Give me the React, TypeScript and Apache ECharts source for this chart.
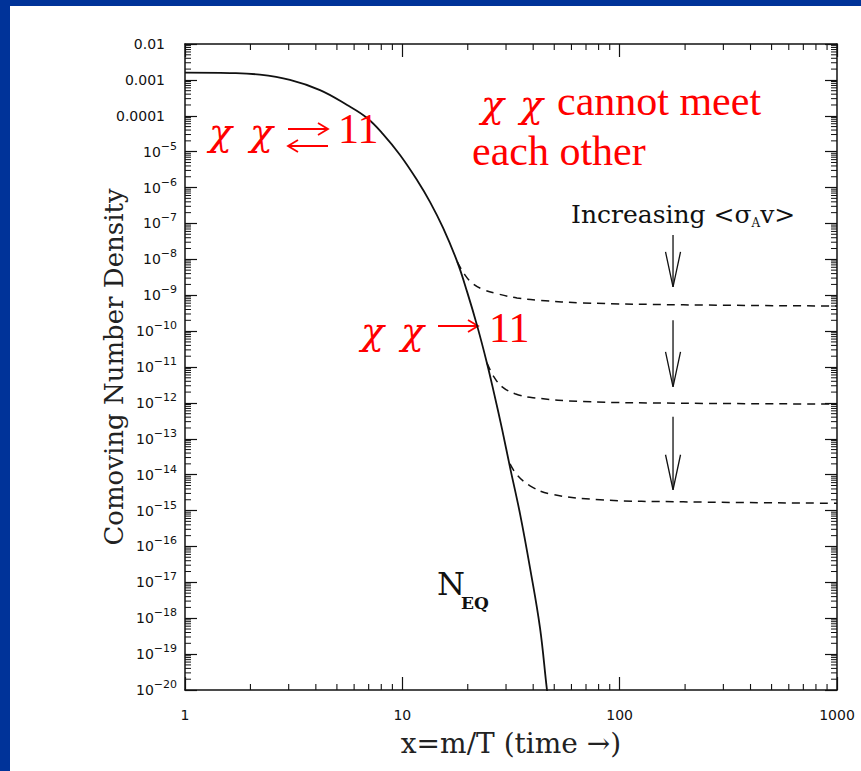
import React, { useEffect, useRef } from 'react';
import * as echarts from 'echarts';

// Equilibrium comoving density N_EQ (solid curve)
const eqX = [1, 1.61, 2.21, 3.04, 4.18, 5.57, 6.88, 8.15, 9.76, 11.7, 13.4, 15.4, 17.9, 19.9, 22.1, 24.5, 26.4, 28.8, 31.3, 34.8, 38.7, 43.0, 46.3, 48.0];
const eqY = [1.6e-3, 1.55e-3, 1.4e-3, 1.0e-3, 5.2e-4, 2.0e-4, 8.7e-5, 3.1e-5, 8.1e-6, 1.6e-6, 4.0e-7, 7.5e-8, 8.5e-9, 1.2e-9, 1.4e-10, 1.3e-11, 1.9e-12, 1.8e-13, 1.6e-14, 8.1e-16, 2.5e-17, 5.4e-19, 1.0e-20, 2e-21];

// Frozen-out relic abundances for three annihilation cross sections (dashed)
const relicHighX = [17.9, 19.4, 21.1, 23.5, 27.3, 33.7, 43.0, 67.9, 196, 1000];
const relicHighY = [8.5e-9, 3.7e-9, 2.1e-9, 1.45e-9, 1.1e-9, 8.4e-10, 7.2e-10, 6.1e-10, 5.4e-10, 5.0e-10];
const relicMidX = [24.5, 26.4, 28.8, 33.0, 39.9, 67.9, 196, 1000];
const relicMidY = [1.3e-11, 5.3e-12, 2.8e-12, 1.8e-12, 1.4e-12, 1.09e-12, 9.8e-13, 9.3e-13];
const relicLowX = [31.3, 33.7, 38.7, 47.9, 81.3, 196, 1000];
const relicLowY = [2.0e-14, 9.9e-15, 4.9e-15, 2.9e-15, 2.0e-15, 1.75e-15, 1.6e-15];

// "Increasing <σv>" arrows
const arrowX = [176, 176, 176];
const arrowFrom = [4.8e-8, 2.0e-10, 4.1e-13];
const arrowTo = [1.7e-9, 2.8e-12, 3.8e-15];

// Axis ranges (decades) and tick labels
const X_MIN = 0;
const X_MAX = 3;
const Y_MIN = -20;
const Y_MAX = -2;
const xTickLabels = ['1', '10', '100', '1000'];
const yDecimalLabels: Record<string, string> = { '-2': '0.01', '-3': '0.001', '-4': '0.0001' };
const minorMultipliers = [2, 3, 4, 5, 6, 7, 8, 9];

const lg = (v: number) => Math.log10(v);
const pairs = (xs: number[], ys: number[]) => xs.map((x, i) => [lg(x), lg(ys[i])]);

const INK = '#111';
const RED = '#ff0000';

// red horizontal arrow drawn with strokes: x0..x1 at height y, head at the `head` end
function hArrow(x0: number, x1: number, y: number, head: 'left' | 'right') {
  const hx = head === 'right' ? x1 : x0;
  const dir = head === 'right' ? -1 : 1;
  const st = { stroke: RED, lineWidth: 1.8, fill: 'none' };
  return {
    type: 'group',
    z: 10,
    silent: true,
    children: [
      { type: 'line', shape: { x1: x0, y1: y, x2: x1, y2: y }, style: st },
      {
        type: 'polyline',
        shape: { points: [[hx + dir * 10, y - 6], [hx, y], [hx + dir * 10, y + 6]] },
        style: st,
      },
    ],
  };
}

function buildOption() {
  const xMinor: number[][] = [];
  for (let d = X_MIN; d < X_MAX; d++) {
    minorMultipliers.forEach((m) => xMinor.push([d + lg(m), Y_MIN]));
  }
  const yMinor: number[][] = [];
  for (let d = Y_MIN; d < Y_MAX; d++) {
    minorMultipliers.forEach((m) => yMinor.push([X_MIN, d + lg(m)]));
  }

  const axisLine = { show: true, onZero: false, lineStyle: { color: INK, width: 1.5 } };
  const tickStyle = { color: INK, width: 1.2 };
  const serif = 'DejaVu Serif';

  const curve = (name: string, data: number[][], dashed: boolean) => ({
    name,
    type: 'line',
    data,
    xAxisIndex: 0,
    yAxisIndex: 0,
    showSymbol: false,
    smooth: 0.4,
    clip: true,
    lineStyle: { color: INK, width: dashed ? 1.5 : 1.8, type: dashed ? [8, 6] : 'solid' },
    z: 3,
  });

  const text = (x: number, y: number, t: string, style: any, z = 10) => ({
    type: 'text',
    x,
    y,
    z,
    silent: true,
    style: { text: t, align: 'left', verticalAlign: 'middle', ...style },
  });
  const chi = { fill: RED, fontFamily: 'DejaVu Serif', fontStyle: 'italic', fontSize: 38 };
  const redSerif = { fill: RED, fontFamily: 'Liberation Serif', fontSize: 42 };

  return {
    animation: false,
    backgroundColor: '#003399',
    grid: { left: 185, right: 24, top: 44, bottom: 81, show: false },
    xAxis: [
      {
        type: 'value',
        min: X_MIN,
        max: X_MAX,
        interval: 1,
        position: 'bottom',
        axisLine,
        axisTick: { show: true, inside: true, length: 13, lineStyle: tickStyle },
        splitLine: { show: false },
        axisLabel: {
          margin: 18,
          color: '#111',
          fontFamily: 'DejaVu Sans',
          fontSize: 14,
          formatter: (v: number) => xTickLabels[Math.round(v)],
        },
        name: 'x=m/T (time →)',
        nameLocation: 'middle',
        nameGap: 39,
        nameMoveOverlap: false,
        nameTextStyle: { fontFamily: serif, fontSize: 28, color: '#222' },
      },
      {
        type: 'value',
        min: X_MIN,
        max: X_MAX,
        interval: 1,
        position: 'top',
        axisLine,
        axisTick: { show: true, inside: true, length: 13, lineStyle: tickStyle },
        splitLine: { show: false },
        axisLabel: { show: false },
      },
    ],
    yAxis: [
      {
        type: 'value',
        min: Y_MIN,
        max: Y_MAX,
        interval: 1,
        position: 'left',
        axisLine,
        axisTick: { show: true, inside: true, length: 12, lineStyle: tickStyle },
        splitLine: { show: false },
        axisLabel: {
          margin: 8,
          color: '#111',
          fontFamily: 'DejaVu Sans',
          fontSize: 14,
          lineHeight: 22,
          formatter: (v: number) => {
            const k = String(Math.round(v));
            if (yDecimalLabels[k]) return '{d|' + yDecimalLabels[k] + '}';
            return '10{s|−' + -Math.round(v) + '}';
          },
          rich: {
            d: { fontFamily: 'DejaVu Sans', fontSize: 14, color: '#111', padding: [0, 12, 0, 0] },
            s: { fontFamily: 'DejaVu Sans', fontSize: 11, lineHeight: 11, color: '#111', verticalAlign: 'top' },
          },
        },
        name: 'Comoving Number Density',
        nameLocation: 'middle',
        nameGap: 58,
        nameMoveOverlap: false,
        nameTextStyle: { fontFamily: serif, fontSize: 26, color: '#222' },
      },
      {
        type: 'value',
        min: Y_MIN,
        max: Y_MAX,
        interval: 1,
        position: 'right',
        axisLine,
        axisTick: { show: true, inside: true, length: 12, lineStyle: tickStyle },
        splitLine: { show: false },
        axisLabel: { show: false },
      },
    ],
    series: [
      curve('N_EQ', pairs(eqX, eqY), false),
      curve('relic high', pairs(relicHighX, relicHighY), true),
      curve('relic mid', pairs(relicMidX, relicMidY), true),
      curve('relic low', pairs(relicLowX, relicLowY), true),
      {
        type: 'custom',
        name: 'x minor ticks',
        xAxisIndex: 0,
        yAxisIndex: 0,
        clip: false,
        silent: true,
        data: xMinor,
        renderItem: (_p: any, api: any) => {
          const v = api.value(0);
          const b = api.coord([v, Y_MIN]);
          const t = api.coord([v, Y_MAX]);
          return {
            type: 'group',
            children: [
              { type: 'line', shape: { x1: b[0], y1: b[1], x2: b[0], y2: b[1] - 6 }, style: { stroke: INK, lineWidth: 1.1 } },
              { type: 'line', shape: { x1: t[0], y1: t[1], x2: t[0], y2: t[1] + 6 }, style: { stroke: INK, lineWidth: 1.1 } },
            ],
          };
        },
      },
      {
        type: 'custom',
        name: 'y minor ticks',
        xAxisIndex: 0,
        yAxisIndex: 0,
        clip: false,
        silent: true,
        data: yMinor,
        renderItem: (_p: any, api: any) => {
          const v = api.value(1);
          const l = api.coord([X_MIN, v]);
          const r = api.coord([X_MAX, v]);
          return {
            type: 'group',
            children: [
              { type: 'line', shape: { x1: l[0], y1: l[1], x2: l[0] + 6, y2: l[1] }, style: { stroke: INK, lineWidth: 1 } },
              { type: 'line', shape: { x1: r[0], y1: r[1], x2: r[0] - 6, y2: r[1] }, style: { stroke: INK, lineWidth: 1 } },
            ],
          };
        },
      },
      {
        type: 'custom',
        name: 'increasing cross section',
        xAxisIndex: 0,
        yAxisIndex: 0,
        silent: true,
        encode: { x: 0, y: [1, 2] },
        data: arrowX.map((x, i) => [lg(x), lg(arrowFrom[i]), lg(arrowTo[i])]),
        renderItem: (_p: any, api: any) => {
          const p0 = api.coord([api.value(0), api.value(1)]);
          const p1 = api.coord([api.value(0), api.value(2)]);
          const st = { stroke: INK, lineWidth: 1.3, fill: 'none' };
          return {
            type: 'group',
            children: [
              { type: 'line', shape: { x1: p0[0], y1: p0[1], x2: p1[0], y2: p1[1] }, style: st },
              {
                type: 'polyline',
                shape: { points: [[p1[0] - 7.5, p1[1] - 35], [p1[0], p1[1]], [p1[0] + 7.5, p1[1] - 35]] },
                style: st,
              },
            ],
          };
        },
      },
    ],
    graphic: [
      { type: 'rect', z: -10, silent: true, shape: { x: 10, y: 6, width: 851, height: 765 }, style: { fill: '#ffffff' } },
      // chemical equilibrium
      text(209, 132, 'χ', chi),
      text(250, 132, 'χ', chi),
      hArrow(288, 328, 129, 'right'),
      hArrow(288, 328, 146, 'left'),
      text(338, 129, '11', redSerif),
      // no more annihilation
      text(481, 104, 'χ', chi),
      text(520, 104, 'χ', chi),
      text(557, 101, 'cannot meet', redSerif),
      text(472, 151, 'each other', redSerif),
      // freeze-out
      text(361, 331, 'χ', chi),
      text(401, 331, 'χ', chi),
      hArrow(438, 478, 326, 'right'),
      text(489, 328, '11', redSerif),
      // curve labels
      text(437, 584, 'N', { fill: '#111', fontFamily: serif, fontSize: 32 }),
      text(461, 603, 'EQ', { fill: '#111', fontFamily: serif, fontWeight: 'bold', fontSize: 17 }),
      {
        type: 'text',
        x: 571,
        y: 214,
        z: 10,
        silent: true,
        style: {
          text: '{t|Increasing <σ}{s|A}{t|v>}',
          align: 'left',
          verticalAlign: 'middle',
          rich: {
            t: { fontFamily: serif, fontSize: 25, lineHeight: 30, fill: '#111' },
            s: { fontFamily: serif, fontSize: 12, lineHeight: 14, fill: '#111', verticalAlign: 'bottom' },
          },
        },
      },
    ],
  };
}

export default function App() {
  const ref = useRef<HTMLDivElement>(null);
  useEffect(() => {
    document.body.style.margin = '0';
    if (!ref.current) return;
    const chart = echarts.init(ref.current, undefined, { renderer: 'svg' });
    chart.setOption(buildOption() as any);
    return () => chart.dispose();
  }, []);
  return <div ref={ref} style={{ width: 861, height: 771 }} />;
}
